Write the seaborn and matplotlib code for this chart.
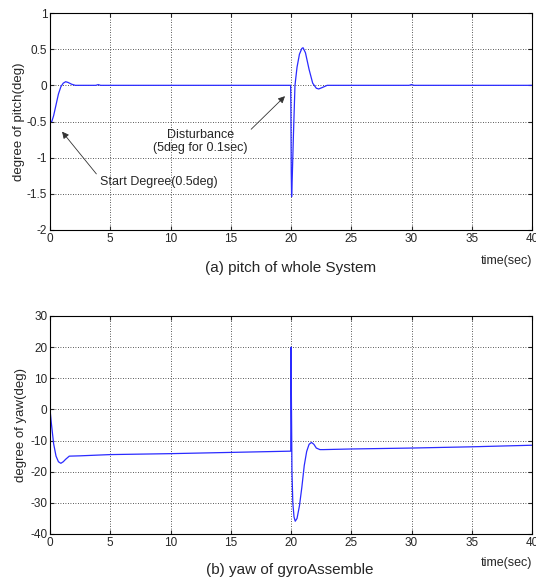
import matplotlib
matplotlib.use("Agg")
import matplotlib.pyplot as plt
import seaborn as sns
import pandas as pd

# ---- data ----
pitch_t = [0, 0.15, 0.3, 0.5, 0.7, 0.9, 1.1, 1.3, 1.5, 1.8, 2.1, 2.5, 3.8, 4.0, 4.2,
           19.97, 19.99, 20.02, 20.05, 20.1, 20.2, 20.33, 20.5, 20.7, 20.9, 21.0, 21.2,
           21.5, 21.8, 22.1, 22.3, 22.6, 23.0, 29.8, 30.0, 30.2, 40]
pitch = [-0.5, -0.5, -0.42, -0.27, -0.12, -0.02, 0.03, 0.05, 0.04, 0.015, 0.0, 0.0, 0.0, 0.01, 0.0,
         0.0, -0.3, -1.2, -1.54, -1.3, -0.7, 0.0, 0.25, 0.43, 0.51, 0.52, 0.45,
         0.22, 0.03, -0.04, -0.05, -0.03, 0.0, 0.0, 0.01, 0.0, 0.0]

yaw_t = [0, 0.1, 0.3, 0.5, 0.7, 0.9, 1.1, 1.3, 1.6, 2.5, 5, 10, 15, 19.98, 20.0, 20.03,
         20.08, 20.15, 20.25, 20.35, 20.5, 20.7, 20.9, 21.1, 21.3, 21.5, 21.7, 21.9,
         22.1, 22.4, 22.7, 25, 30, 35, 40]
yaw = [0, -4, -11, -15, -16.8, -17.3, -16.8, -16, -15, -14.9, -14.5, -14.2, -13.8, -13.4, 20, 5,
       -20, -30, -34.5, -35.9, -35, -31, -25, -18, -13.5, -11.2, -10.6, -11.2,
       -12.4, -12.9, -12.9, -12.7, -12.4, -12, -11.5]

x_ticks = [0, 5, 10, 15, 20, 25, 30, 35, 40]
pitch_ticks = [-2, -1.5, -1, -0.5, 0, 0.5, 1]
pitch_labels = ["-2", "-1.5", "-1", "-0.5", "0", "0.5", "1"]
yaw_ticks = [-40, -30, -20, -10, 0, 10, 20, 30]

sns.set_style("white")
plt.rcParams["font.family"] = ["Liberation Sans", "DejaVu Sans"]

fig = plt.figure(figsize=(5.36, 5.80), dpi=100)
W, H = 536, 580
ax1 = fig.add_axes([50 / W, 1 - 230 / H, 482 / W, 217 / H])
ax2 = fig.add_axes([50 / W, 1 - 534 / H, 482 / W, 218 / H])

df1 = pd.DataFrame({"t": pitch_t, "v": pitch})
df2 = pd.DataFrame({"t": yaw_t, "v": yaw})
sns.lineplot(data=df1, x="t", y="v", ax=ax1, color="#2b2bff", lw=0.9, estimator=None, sort=False)
sns.lineplot(data=df2, x="t", y="v", ax=ax2, color="#2b2bff", lw=0.9, estimator=None, sort=False)

for ax in (ax1, ax2):
    ax.set_xlim(0, 40)
    ax.set_xticks(x_ticks)
    ax.set_xticklabels([str(v) for v in x_ticks])
    ax.grid(True, color="#222222", linestyle=(0, (1, 2)), linewidth=0.6)
    ax.tick_params(direction="in", length=3, labelsize=8.5, pad=2,
                   top=True, right=True, bottom=True, left=True)
    for s in ax.spines.values():
        s.set_color("black")
        s.set_linewidth(0.8)
    ax.set_xlabel("")

ax1.set_ylim(-2, 1)
ax1.set_yticks(pitch_ticks)
ax1.set_yticklabels(pitch_labels)
ax1.set_ylabel("degree of pitch(deg)", fontsize=9.5)
ax1.yaxis.set_label_coords(-(50 - 25) / 482, 0.5)

ax2.set_ylim(-40, 30)
ax2.set_yticks(yaw_ticks)
ax2.set_yticklabels([str(v) for v in yaw_ticks])
ax2.set_ylabel("degree of yaw(deg)", fontsize=9.5)
ax2.yaxis.set_label_coords(-(50 - 27) / 482, 0.5)

ax1.annotate("Disturbance\n(5deg for 0.1sec)", xy=(19.5, -0.15), xytext=(12.5, -0.6),
             ha="center", va="top", fontsize=9, linespacing=1.1,
             arrowprops=dict(arrowstyle="-|>", color="#333333", lw=0.6,
                             shrinkA=0, shrinkB=0, mutation_scale=10,
                             relpos=(1.0, 0.85)))
ax1.annotate("Start Degree(0.5deg)", xy=(1.0, -0.64), xytext=(9.0, -1.33),
             ha="center", va="center", fontsize=9,
             arrowprops=dict(arrowstyle="-|>", color="#333333", lw=0.6,
                             shrinkA=0, shrinkB=0, mutation_scale=10,
                             relpos=(0.0, 0.8)))

fig.text(291 / W, 1 - 268 / H, "(a) pitch of whole System", ha="center", va="center", fontsize=11)
fig.text(506 / W, 1 - 261 / H, "time(sec)", ha="center", va="center", fontsize=9)
fig.text(290 / W, 1 - 570 / H, "(b) yaw of gyroAssemble", ha="center", va="center", fontsize=11)
fig.text(506 / W, 1 - 563 / H, "time(sec)", ha="center", va="center", fontsize=9)

fig.savefig("out.png", dpi=100)
